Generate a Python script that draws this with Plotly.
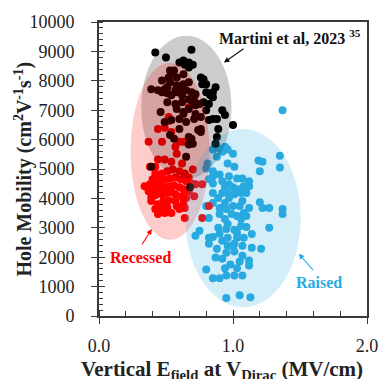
import plotly.graph_objects as go

# Hole mobility vs. vertical field at the Dirac point, three device groups
martini_x = [0.42, 0.50, 0.60, 0.63, 0.67, 0.70, 0.69, 0.67, 0.56, 0.54, 0.58, 0.63, 0.53, 0.58, 0.63, 0.67,
             0.39, 0.44, 0.47, 0.51, 0.54, 0.58, 0.62, 0.67, 0.71, 0.46, 0.58, 0.63, 0.67, 0.60, 0.60, 0.53,
             0.56, 0.67, 0.67, 0.39, 0.65, 0.68, 0.67, 0.76, 0.78, 0.77, 0.80, 0.87, 0.85, 0.85, 0.80, 0.83,
             0.78, 0.82, 0.75, 0.72, 0.70, 0.92, 0.94, 0.85, 0.88, 0.82, 1.00, 0.89, 0.76, 0.76, 0.88, 0.87,
             0.69, 0.70, 0.64, 0.71, 0.74, 0.80, 0.63, 0.49, 0.57, 0.52, 0.53, 0.47, 0.51, 0.60, 0.65, 0.69,
             0.72, 0.62, 0.57, 0.51, 0.65, 0.72, 0.76, 0.49, 0.54]
martini_y = [8960, 8790, 8620, 8690, 8620, 8550, 9060, 8520, 8350, 8220, 8110, 8220, 7950, 7850, 7880, 7950,
             7710, 7680, 7610, 7580, 7510, 7610, 7510, 7370, 7340, 6940, 7040, 6940, 7040, 6700, 6360, 6160,
             6030, 5830, 6090, 5080, 5420, 4380, 8450, 8110, 8050, 7880, 7880, 7780, 7610, 7440, 7610, 7510,
             7270, 7210, 7210, 7170, 7270, 7000, 6840, 6700, 6700, 6670, 6500, 6360, 6360, 6260, 6090, 5860,
             6030, 5860, 8550, 6700, 6330, 7000, 6870, 7710, 7680, 8110, 8350, 8010, 7780, 7680, 7680, 7610,
             7540, 7270, 7210, 7270, 6600, 6870, 6770, 6600, 6670]

recessed_x = [0.37, 0.44, 0.49, 0.52, 0.52, 0.54, 0.60, 0.63, 0.58, 0.44, 0.49, 0.38, 0.42, 0.67,
              0.40, 0.44, 0.47, 0.51, 0.55, 0.60, 0.64, 0.67,
              0.38, 0.42, 0.46, 0.49, 0.53, 0.57, 0.61, 0.65, 0.69, 0.72, 0.77,
              0.37, 0.41, 0.45, 0.49, 0.52, 0.56, 0.60, 0.63, 0.67,
              0.39, 0.42, 0.47, 0.50, 0.54, 0.57, 0.62, 0.65,
              0.39, 0.44, 0.48, 0.52, 0.57, 0.60, 0.63,
              0.42, 0.46, 0.51, 0.54, 0.58, 0.64, 0.64, 0.77, 0.82, 0.63, 0.44, 0.49,
              0.71, 0.34, 0.42, 0.54, 0.62, 0.70, 0.47, 0.57]
recessed_y = [5930, 6360, 6400, 6770, 6630, 6260, 5930, 5930, 5520, 5320, 5320, 5080, 4850, 7100,
              4650, 4750, 4850, 4920, 4980, 4920, 4850, 4710,
              4480, 4510, 4580, 4650, 4680, 4710, 4650, 4580, 4510, 4480, 4480,
              4240, 4310, 4340, 4380, 4410, 4440, 4380, 4310, 4240,
              4040, 4110, 4140, 4180, 4210, 4140, 4070, 4010,
              3910, 3800, 3910, 3940, 3910, 3640, 3800,
              3640, 3670, 3700, 3500, 3740, 3670, 3330, 3330, 3740, 3970, 3470, 3500,
              4070, 4410, 5080, 5250, 5190, 4980, 5930, 5760]

raised_x = [1.37, 0.94, 0.90, 0.96, 1.00, 0.92, 0.85, 0.87, 0.88, 0.81, 0.96, 1.01, 0.85, 0.85, 0.80,
            0.90, 0.97, 1.03, 1.07, 1.19, 1.22, 1.35, 1.35, 1.20, 0.82, 0.85, 0.92, 0.97, 1.00, 1.08,
            1.12, 1.12, 1.10, 0.85, 0.92, 0.96, 1.01, 1.06, 0.89, 0.97, 0.85, 0.94, 0.90, 0.95, 1.00,
            1.07, 0.80, 0.82, 1.20, 1.22, 1.27, 1.37, 1.37, 1.12, 1.10, 0.90, 0.94, 0.99, 1.03, 1.06,
            1.08, 0.89, 0.95, 1.01, 1.06, 0.96, 0.72, 0.75, 0.82, 0.85, 0.90, 0.96, 1.03, 1.08, 0.92,
            1.01, 1.07, 0.82, 0.96, 1.14, 1.21, 1.14, 1.10, 1.27, 0.95, 1.01, 1.07, 0.87, 0.92, 1.05,
            1.12, 1.12, 0.80, 0.85, 0.94, 0.95, 0.90, 1.01, 1.07, 0.95, 1.05, 1.13, 0.98, 1.03, 0.88,
            1.00, 1.04, 0.94, 1.05, 1.03]
raised_y = [7000, 5760, 5690, 5660, 5520, 5590, 5660, 5830, 5420, 5190, 5190, 5080, 4920, 4750, 5020,
            4810, 4750, 4680, 4680, 5290, 5250, 5450, 5050, 4920, 4650, 4510, 4580, 4480, 4380, 4410,
            4580, 4410, 4180, 4180, 4180, 4180, 4140, 4180, 4010, 4010, 3840, 3840, 3670, 3640, 3740,
            3910, 3740, 3330, 3870, 3670, 3670, 3640, 3470, 3670, 3400, 3470, 3300, 3470, 3400, 3300,
            3500, 3000, 2960, 2930, 3060, 3130, 2730, 2900, 2660, 2690, 2800, 2660, 2660, 2660, 2560,
            2460, 2390, 2460, 2390, 2320, 2290, 2790, 3030, 3000, 2150, 2190, 2050, 1990, 1950, 1850,
            1890, 1720, 1580, 1280, 1620, 1380, 1280, 1380, 1380, 610, 710, 640, 1750, 1620, 2290,
            2360, 4310, 4380, 3740, 2830]

# Group outlines: (x centre, x half-width, y centre, y half-height)
martini_region = (0.652, 0.337, 7100, 2430)
recessed_region = (0.530, 0.294, 5600, 3010)
raised_region = (1.075, 0.430, 3330, 3030)

BLACK = "#000000"
RED = "#ff0000"
BLUE = "#29abe2"
AXIS = "#3a3a3a"
SERIF = "Liberation Serif, Times New Roman, serif"

fig = go.Figure()
for xs, ys, col in [(raised_x, raised_y, BLUE), (recessed_x, recessed_y, RED), (martini_x, martini_y, BLACK)]:
    fig.add_trace(go.Scatter(x=xs, y=ys, mode="markers", marker=dict(size=8, color=col, line=dict(width=0)),
                             hoverinfo="skip", showlegend=False))

# empty trace so the overlay axes (inner half of the crossing ticks) get drawn
fig.add_trace(go.Scatter(x=[None], y=[None], xaxis="x2", yaxis="y2", showlegend=False, hoverinfo="skip"))

for (cx, hw, cy, hh), fill in [(martini_region, "rgba(0,0,0,0.2)"),
                               (recessed_region, "rgba(255,0,0,0.2)"),
                               (raised_region, "rgba(41,171,226,0.2)")]:
    fig.add_shape(type="circle", xref="x", yref="y", x0=cx - hw, x1=cx + hw, y0=cy - hh, y1=cy + hh,
                  fillcolor=fill, line=dict(width=0), layer="above")

tick_font = dict(family=SERIF, size=18, color="#222222")

fig.update_layout(
    width=390, height=379,
    margin=dict(l=99, r=12, t=19, b=63),
    paper_bgcolor="white", plot_bgcolor="white",
    xaxis=dict(range=[0, 2], tickvals=[0, 1, 2], ticktext=["0.0", "1.0", "2.0"],
               ticks="outside", ticklen=6, tickwidth=1.3, tickcolor=AXIS,
               showline=True, linewidth=1.6, linecolor=AXIS, mirror=True,
               showgrid=False, zeroline=False, tickfont=tick_font, ticklabelstandoff=7,
               minor=dict(dtick=0.2, ticks="inside", ticklen=5, tickwidth=1.2, tickcolor=AXIS, showgrid=False)),
    yaxis=dict(range=[0, 10000], dtick=1000, tickformat="d", ticks="outside", ticklen=6, tickwidth=1.3,
               tickcolor=AXIS, showline=True, linewidth=1.6, linecolor=AXIS, mirror=True,
               showgrid=False, zeroline=False, tickfont=tick_font, ticklabelstandoff=13,
               minor=dict(dtick=200, ticks="inside", ticklen=4, tickwidth=1.2, tickcolor=AXIS, showgrid=False)),
    xaxis2=dict(range=[0, 2], overlaying="x", anchor="y2", tickvals=[0, 1, 2], ticks="inside", ticklen=6,
                tickwidth=1.3, tickcolor=AXIS, showticklabels=False, showline=False, showgrid=False,
                zeroline=False),
    yaxis2=dict(range=[0, 10000], overlaying="y", anchor="x2", dtick=1000, ticks="inside", ticklen=6,
                tickwidth=1.3, tickcolor=AXIS, showticklabels=False, showline=False, showgrid=False,
                zeroline=False),
    showlegend=False,
)

title_font = dict(family=SERIF, size=21, color="#222222")
fig.add_annotation(xref="paper", yref="paper", x=0.46, y=-0.185, xanchor="center", yanchor="middle",
                   text="<b>Vertical E<sub>field</sub> at V<sub>Dirac</sub> (MV/cm)</b>",
                   showarrow=False, font=title_font)
fig.add_annotation(xref="paper", yref="paper", x=-0.285, y=0.5, xanchor="center", yanchor="middle",
                   text="<b>Hole Mobility (cm<sup>2</sup>V<sup>-1</sup>s<sup>-1</sup>)</b>",
                   textangle=-90, showarrow=False, font=dict(family=SERIF, size=20, color="#222222"))

label_font = 16
fig.add_annotation(x=0.88, y=9480, xref="x", yref="y", xanchor="left", yanchor="middle",
                   text="<b>Martini et al, 2023 <sup>35</sup></b>", showarrow=False,
                   font=dict(family=SERIF, size=label_font, color="#111111"))
fig.add_annotation(x=0.312, y=1990, xref="x", yref="y", xanchor="center", yanchor="middle",
                   text="<b>Recessed</b>", showarrow=False, font=dict(family=SERIF, size=label_font, color=RED))
fig.add_annotation(x=1.64, y=1150, xref="x", yref="y", xanchor="center", yanchor="middle",
                   text="<b>Raised</b>", showarrow=False, font=dict(family=SERIF, size=label_font, color=BLUE))

# pointer arrows from the labels to their regions
for (hx, hy, tx, ty, col) in [(0.932, 8620, 1.090, 9125, "#111111"),
                              (0.394, 2960, 0.315, 2390, RED),
                              (1.491, 2120, 1.606, 1515, BLUE)]:
    fig.add_annotation(x=hx, y=hy, ax=tx, ay=ty, xref="x", yref="y", axref="x", ayref="y",
                       text="", showarrow=True, arrowhead=2, arrowsize=1, arrowwidth=1.1, arrowcolor=col)

fig.write_html("out.html")
